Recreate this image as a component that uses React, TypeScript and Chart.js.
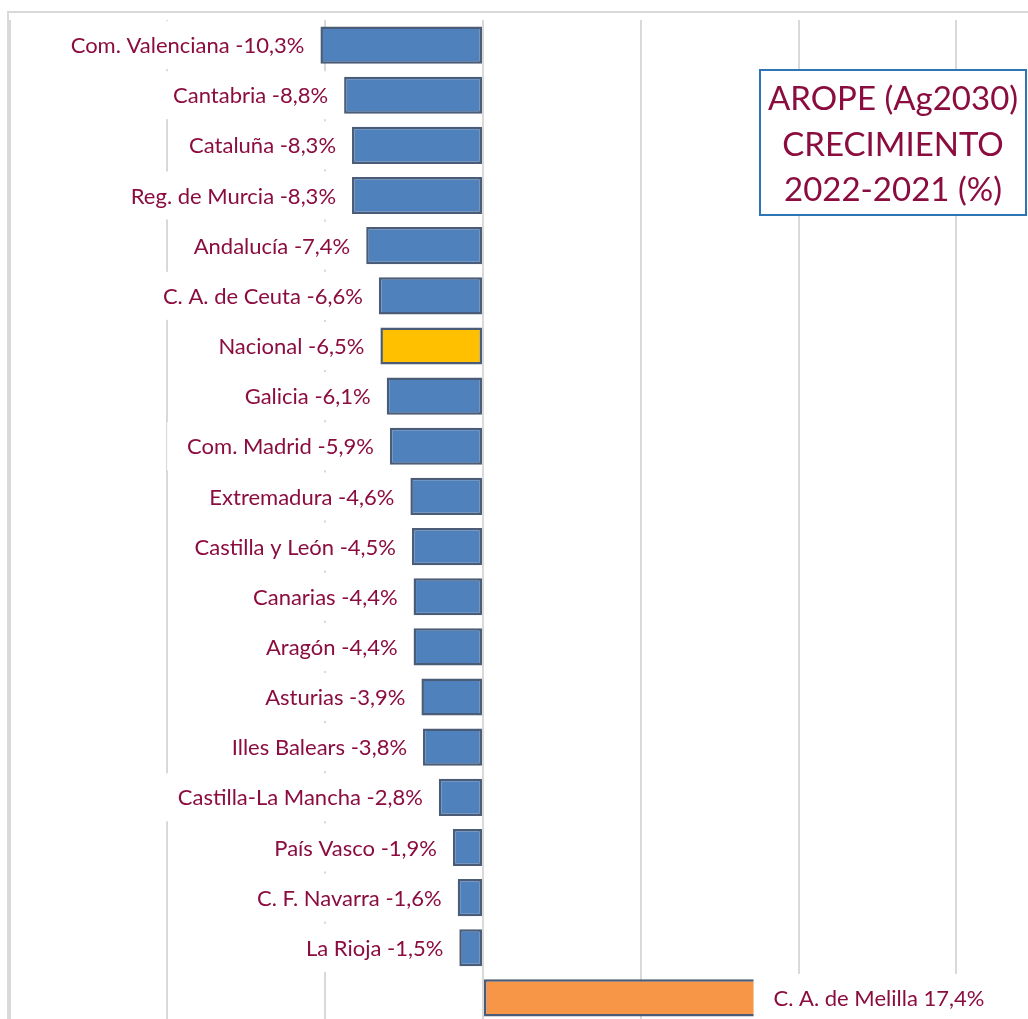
import { useEffect, useRef } from 'react';
import { Chart, registerables } from 'chart.js';

Chart.register(...registerables);

const regions = [
  'Com. Valenciana',
  'Cantabria',
  'Cataluña',
  'Reg. de Murcia',
  'Andalucía',
  'C. A. de Ceuta',
  'Nacional',
  'Galicia',
  'Com. Madrid',
  'Extremadura',
  'Castilla y León',
  'Canarias',
  'Aragón',
  'Asturias',
  'Illes Balears',
  'Castilla-La Mancha',
  'País Vasco',
  'C. F. Navarra',
  'La Rioja',
  'C. A. de Melilla',
];

const growth = [
  -10.3, -8.8, -8.3, -8.3, -7.4, -6.6, -6.5, -6.1, -5.9, -4.6,
  -4.5, -4.4, -4.4, -3.9, -3.8, -2.8, -1.9, -1.6, -1.5, 17.4,
];

const titleLines = ['AROPE (Ag2030)', 'CRECIMIENTO', '2022-2021 (%)'];

const xMin = -30;
const xMax = 34.54;
const xStep = 10;

const TEXT = '#8B0D3F';
const FONT = 'Lato';
const BLUE = '#4F81BD';
const YELLOW = '#FFC000';
const ORANGE = '#F79646';
const EDGE = '#4A5C77';

const fmt = (v: number) => v.toFixed(1).replace('.', ',');

export default function App() {
  const ref = useRef<HTMLCanvasElement>(null);

  useEffect(() => {
    const canvas = ref.current;
    if (!canvas) return;

    const framePlugin = {
      id: 'frame',
      beforeDraw(chart: any) {
        const ctx = chart.ctx;
        ctx.save();
        ctx.fillStyle = '#ffffff';
        ctx.fillRect(0, 0, chart.width, chart.height);
        ctx.strokeStyle = '#D9D9D9';
        ctx.lineWidth = 2;
        ctx.beginPath();
        ctx.moveTo(8, chart.height);
        ctx.lineTo(8, 12);
        ctx.lineTo(chart.width, 12);
        ctx.stroke();
        ctx.restore();
      },
    };

    const labelPlugin = {
      id: 'barLabels',
      afterDatasetsDraw(chart: any) {
        const ctx = chart.ctx;
        const meta = chart.getDatasetMeta(0);
        ctx.save();
        ctx.font = `22px ${FONT}`;
        ctx.textBaseline = 'middle';
        ctx.textAlign = 'left';
        meta.data.forEach((bar: any, i: number) => {
          const v = growth[i];
          const text = `${regions[i]} ${fmt(v)}%`;
          const w = ctx.measureText(text).width;
          const p = bar.getProps(['x', 'y', 'base'], true);
          const gap = 16;
          const left = v < 0 ? Math.min(p.x, p.base) - gap - w : Math.max(p.x, p.base) + gap;
          ctx.fillStyle = '#ffffff';
          ctx.fillRect(left - 20, p.y - 24, w + 24, 48);
          ctx.fillStyle = TEXT;
          ctx.fillText(text, left, p.y + 1);
        });
        ctx.restore();
      },
      afterDraw(chart: any) {
        const ctx = chart.ctx;
        ctx.save();
        const bx = 760, by = 70, bw = 266, bh = 145;
        ctx.fillStyle = '#ffffff';
        ctx.fillRect(bx, by, bw, bh);
        ctx.strokeStyle = '#2E75B6';
        ctx.lineWidth = 2;
        ctx.strokeRect(bx, by, bw, bh);
        ctx.fillStyle = TEXT;
        ctx.font = `33px ${FONT}`;
        ctx.textAlign = 'center';
        ctx.textBaseline = 'alphabetic';
        titleLines.forEach((line, i) => {
          ctx.fillText(line, bx + bw / 2, 110 + i * 45.5);
        });
        ctx.restore();
      },
    };

    const chart = new Chart(canvas, {
      type: 'bar',
      data: {
        labels: regions,
        datasets: [
          {
            data: growth,
            backgroundColor: regions.map((r, i) =>
              r === 'Nacional' ? YELLOW : growth[i] > 0 ? ORANGE : BLUE
            ),
            borderColor: EDGE,
            borderWidth: 2.5,
            borderSkipped: false,
            barPercentage: 0.74,
            categoryPercentage: 1,
          },
        ],
      },
      options: {
        responsive: false,
        animation: false,
        indexAxis: 'y',
        layout: { padding: { left: 9.6, right: 0, top: 20, bottom: 7 } },
        plugins: {
          legend: { display: false },
          tooltip: { enabled: false },
          title: { display: false },
        },
        scales: {
          x: {
            type: 'linear',
            min: xMin,
            max: xMax,
            ticks: { display: false, stepSize: xStep, includeBounds: false },
            grid: { color: '#D9D9D9', lineWidth: 2, drawTicks: false },
            border: { display: false },
          },
          y: {
            type: 'category',
            display: false,
          },
        },
      },
      plugins: [framePlugin, labelPlugin],
    });

    return () => chart.destroy();
  }, []);

  return (
    <div
      style={{
        position: 'absolute',
        left: 0,
        top: 0,
        width: 1028,
        height: 1019,
        overflow: 'hidden',
        background: '#fff',
      }}
    >
      <canvas ref={ref} width={1028} height={1030} style={{ display: 'block' }} />
    </div>
  );
}
